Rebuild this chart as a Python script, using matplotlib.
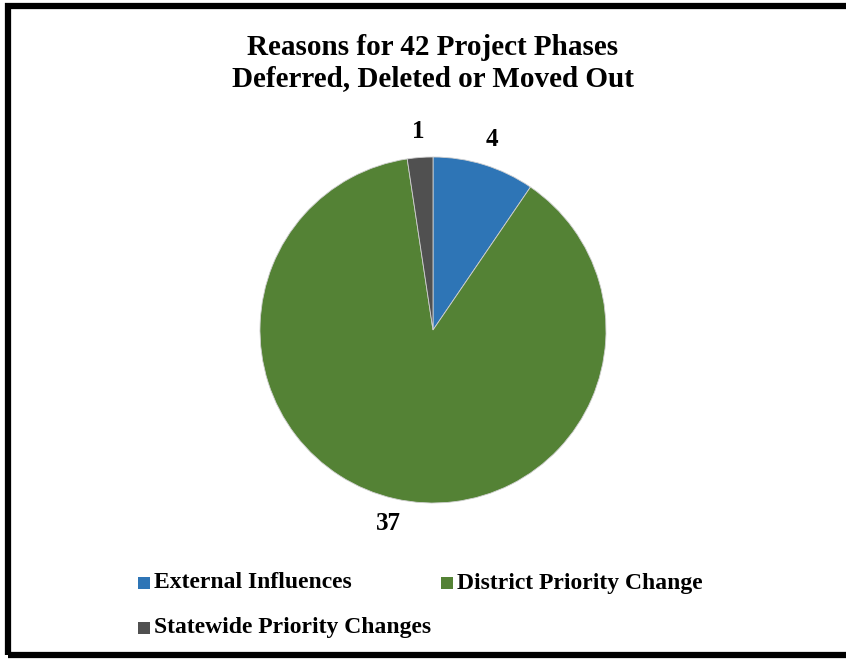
import matplotlib
matplotlib.use("Agg")
import matplotlib.pyplot as plt
from matplotlib.patches import Rectangle

categories = ["External Influences", "District Priority Change", "Statewide Priority Changes"]
counts = [4, 37, 1]
colors = ["#2E75B6", "#548235", "#505050"]
title = "Reasons for 42 Project Phases\nDeferred, Deleted or Moved Out"

W, H = 846, 661
fig = plt.figure(figsize=(W / 100, H / 100), dpi=100)
plt.rcParams["font.family"] = ["Liberation Serif", "DejaVu Serif"]

# outer frame (runs off the right edge)
fig.patches.append(Rectangle((8 / W, 1 - 655 / H), 900 / W, (655 - 6) / H,
                             transform=fig.transFigure, fill=False,
                             edgecolor="black", linewidth=4.5))

fig.text(433 / W, 1 - 63 / H, title, ha="center", va="center",
         fontsize=21, fontweight="bold", linespacing=1.2)

# pie axes
cx, cy, r = 433, 330, 173
ax = fig.add_axes([(cx - r) / W, 1 - (cy + r) / H, 2 * r / W, 2 * r / H])
wedges, texts = ax.pie(counts, colors=colors, startangle=90, counterclock=False,
                       labels=[str(v) for v in counts], labeldistance=1.15,
                       wedgeprops=dict(edgecolor="#d0d0d0", linewidth=0.6),
                       textprops=dict(fontsize=18, fontweight="bold"))
for t in texts:
    t.set_ha("center")
    t.set_va("center")
ax.set_xlim(-1, 1)
ax.set_ylim(-1, 1)
ax.set_aspect("equal")
ax.axis("off")

# legend
positions = [(138, 583), (441, 583), (138, 628)]
for (x, y), name, col in zip(positions, categories, colors):
    s = 12
    fig.patches.append(Rectangle((x / W, 1 - (y + s / 2) / H), s / W, s / H,
                                 transform=fig.transFigure, facecolor=col,
                                 edgecolor="none"))
    fig.text((x + s + 4) / W, 1 - y / H, name, ha="left", va="center",
             fontsize=17, fontweight="bold")

fig.savefig("out.png", dpi=100)
